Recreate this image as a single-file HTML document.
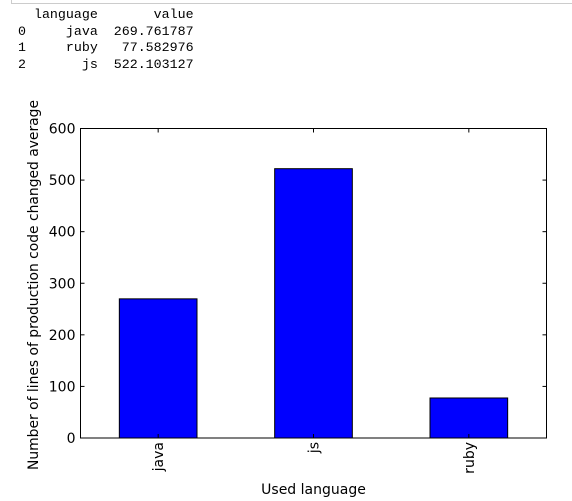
<!DOCTYPE html>
<html><head><meta charset="utf-8"><style>
body{margin:0;background:#fff;width:572px;height:501px;overflow:hidden;position:relative}
#tbl{position:absolute;left:18px;top:7px;font:13.3px/16.5px "Liberation Mono",monospace;white-space:pre;color:#000;margin:0}
#topline{position:absolute;left:11px;top:0;width:561px;height:3px;border-bottom:1px solid #ccc;border-left:1px solid #ccc}
</style></head><body>
<div id="topline"></div>
<pre id="tbl">  language       value
0     java  269.761787
1     ruby   77.582976
2       js  522.103127</pre>
<svg id="chart" width="572" height="501" style="position:absolute;left:0;top:0" font-family="DejaVu Sans, Liberation Sans, sans-serif"></svg>
<script>
const categories=["java","js","ruby"];
const values=[269.761787,522.103127,77.582976];
const yTicks=[0,100,200,300,400,500,600];
const xTitle="Used language";
const yTitle="Number of lines of production code changed average";
const NS="http://www.w3.org/2000/svg";
const svg=document.getElementById('chart');
const L=80.5,R=546.5,T=128.5,B=438;
const y=v=>B-(v/600)*(B-T);
const step=(R-L)/categories.length;
const x=i=>L+step*(i+0.5);
function mk(tag,at){const e=document.createElementNS(NS,tag);for(const k in at)e.setAttribute(k,at[k]);svg.appendChild(e);return e;}
categories.forEach((c,i)=>{
 const bw=step*0.5;
 const r=mk('rect',{x:x(i)-bw/2,y:y(values[i]),width:bw,height:B-y(values[i]),fill:'#0000ff',stroke:'#000','stroke-width':1});
 
 
 mk('line',{x1:x(i),x2:x(i),y1:B,y2:B-4,stroke:'#000'});
 mk('line',{x1:x(i),x2:x(i),y1:T,y2:T+4,stroke:'#000'});
 const t=mk('text',{x:0,y:0,'font-size':14,'text-anchor':'end',transform:`translate(${x(i)+5},${B+4}) rotate(-90)`});
 t.textContent=c;
 
 
});
yTicks.forEach(v=>{
 mk('line',{x1:L,x2:L+4,y1:y(v),y2:y(v),stroke:'#000'});
 mk('line',{x1:R,x2:R-4,y1:y(v),y2:y(v),stroke:'#000'});
 const t=mk('text',{x:L-5,y:y(v)+5,'font-size':14,'text-anchor':'end'});
 t.textContent=v;
 
 
});
const f=mk('rect',{x:L,y:T,width:R-L,height:B-T,fill:'none',stroke:'#000','stroke-width':1});


const xt=mk('text',{x:(L+R)/2,y:494,'font-size':14,'text-anchor':'middle'});
xt.textContent=xTitle;


const yt=mk('text',{x:0,y:0,'font-size':14,'text-anchor':'middle',textLength:370,lengthAdjust:'spacingAndGlyphs',transform:`translate(38,285) rotate(-90)`});
yt.textContent=yTitle;


</script>
</body></html>
